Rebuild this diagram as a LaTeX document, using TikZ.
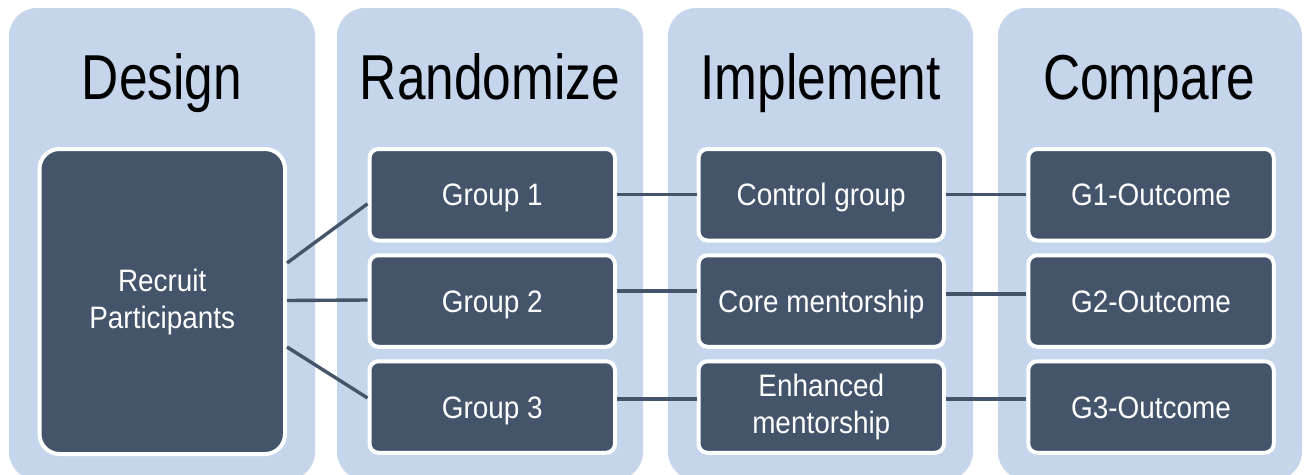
\documentclass[tikz,border=0pt]{standalone}
\usepackage{fontspec}
\setmainfont{Liberation Sans}
\newfontfamily\titlefont[FakeStretch=0.81]{Liberation Sans}
\newfontfamily\boxfont[FakeStretch=0.9]{Liberation Sans}
\definecolor{panelblue}{HTML}{C5D5EB}
\definecolor{slate}{HTML}{44546A}
\begin{document}
\begin{tikzpicture}[x=1pt,y=-1pt,
  panel/.style={fill=panelblue, draw=none, rounded corners=28pt},
  heading/.style={font=\titlefont\fontsize{63.5}{70}\selectfont, text=black, anchor=base, inner sep=0pt},
  stagebox/.style={draw=white, line width=4pt, fill=slate, rounded corners=9pt,
    text=white, align=center, inner sep=2pt,
    font=\boxfont\fontsize{31}{37}\selectfont,
    minimum width=245.5pt, minimum height=91.5pt},
  oneline/.style={stagebox, text height=22pt, text depth=0pt},
  link/.style={draw=slate, line width=3.4pt}]
\useasboundingbox (0,0) rectangle (1304,474);

% column panels
\begin{scope}
  \clip (0,0) rectangle (1304,474);
  \fill[panel] (9,8) rectangle (315,480);
  \fill[panel] (337,8) rectangle (643,480);
  \fill[panel] (668,8) rectangle (973,480);
  \fill[panel] (998,8) rectangle (1302,480);
\end{scope}

% column headings
\node[heading] (hDesign)    at (162,99)  {Design};
\node[heading] (hRandom)    at (490,99)  {Randomize};
\node[heading] (hImplement) at (820.5,99) {Implement};
\node[heading] (hCompare)   at (1149,99) {Compare};

% boxes
\node[stagebox, minimum height=305pt, rounded corners=20pt] (rec) at (162.25,301.5) {Recruit\\Participants};

\node[oneline] (g1) at (492.25,194.75) {Group 1};
\node[oneline] (g2) at (492.25,301)    {Group 2};
\node[oneline] (g3) at (492.25,407)    {Group 3};

\node[oneline] (i1) at (821.25,194.75) {Control group};
\node[oneline] (i2) at (821.25,301)    {Core mentorship};
\node[stagebox] (i3) at (821.25,407)    {Enhanced\\mentorship};

\node[oneline] (o1) at (1151,194.75) {G1-Outcome};
\node[oneline] (o2) at (1151,301)    {G2-Outcome};
\node[oneline] (o3) at (1151,407)    {G3-Outcome};

% connectors
\draw[link] ([yshift=38.5pt]rec.east) -- ([yshift=-9pt]g1.west);
\draw[link] ([yshift=1pt]rec.east) -- ([yshift=1pt]g2.west);
\draw[link] ([yshift=-45.5pt]rec.east) -- ([yshift=9pt]g3.west);

\draw[link] ([yshift=0.5pt]g1.east) -- ([yshift=0.5pt]i1.west);
\draw[link] ([yshift=10pt]g2.east) -- ([yshift=10pt]i2.west);
\draw[link] ([yshift=8pt]g3.east) -- ([yshift=8pt]i3.west);

\draw[link] ([yshift=0.5pt]i1.east) -- ([yshift=0.5pt]o1.west);
\draw[link] ([yshift=7pt]i2.east) -- ([yshift=7pt]o2.west);
\draw[link] ([yshift=8pt]i3.east) -- ([yshift=8pt]o3.west);
\end{tikzpicture}
\end{document}
